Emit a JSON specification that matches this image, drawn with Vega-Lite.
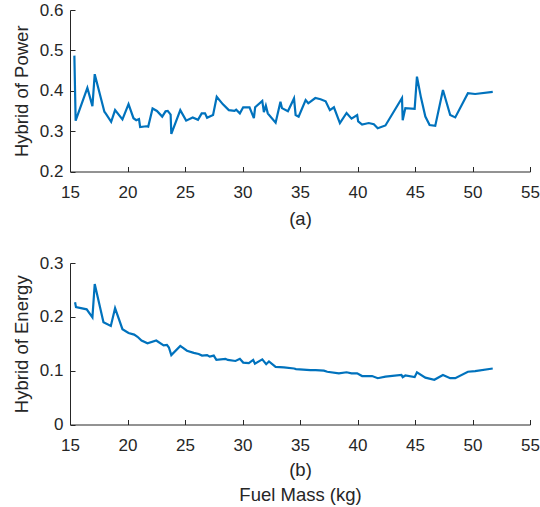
{
  "$schema": "https://vega.github.io/schema/vega-lite/v6.json",
  "padding": {"left": 12, "top": 1, "right": 2, "bottom": 2},
  "background": "white",
  "config": {
    "view": {"stroke": null},
    "font": "Liberation Sans",
    "axis": {
      "domainColor": "#262626",
      "tickColor": "#262626",
      "tickSize": -5,
      "labelColor": "#262626",
      "titleColor": "#262626",
      "labelFontSize": 17,
      "titleFontSize": 18.5,
      "titleFontWeight": "normal",
      "grid": false,
      "labelFlush": false,
      "labelOverlap": false,
      "labelFont": "Liberation Sans",
      "titleFont": "Liberation Sans"
    }
  },
  "datasets": {
    "power": [
      {"m": 15.38, "v": 0.487}, {"m": 15.49, "v": 0.326}, {"m": 16.51, "v": 0.407}, {"m": 16.95, "v": 0.362},
      {"m": 17.15, "v": 0.441}, {"m": 17.99, "v": 0.348}, {"m": 18.1, "v": 0.344}, {"m": 18.58, "v": 0.323},
      {"m": 18.92, "v": 0.352}, {"m": 19.56, "v": 0.329}, {"m": 20.09, "v": 0.367}, {"m": 20.52, "v": 0.332},
      {"m": 20.76, "v": 0.327}, {"m": 21.0, "v": 0.33}, {"m": 21.1, "v": 0.31}, {"m": 21.63, "v": 0.312},
      {"m": 21.8, "v": 0.311}, {"m": 22.18, "v": 0.356}, {"m": 22.56, "v": 0.35}, {"m": 23.02, "v": 0.336},
      {"m": 23.31, "v": 0.349}, {"m": 23.5, "v": 0.35}, {"m": 23.75, "v": 0.341}, {"m": 23.81, "v": 0.293},
      {"m": 24.59, "v": 0.352}, {"m": 25.1, "v": 0.326}, {"m": 25.67, "v": 0.334}, {"m": 26.13, "v": 0.328},
      {"m": 26.45, "v": 0.344}, {"m": 26.74, "v": 0.344}, {"m": 26.92, "v": 0.333}, {"m": 27.44, "v": 0.34},
      {"m": 27.76, "v": 0.385}, {"m": 28.28, "v": 0.367}, {"m": 28.81, "v": 0.352}, {"m": 29.3, "v": 0.35},
      {"m": 29.45, "v": 0.353}, {"m": 29.77, "v": 0.344}, {"m": 30.06, "v": 0.359}, {"m": 30.61, "v": 0.359},
      {"m": 30.99, "v": 0.332}, {"m": 31.1, "v": 0.359}, {"m": 31.72, "v": 0.375}, {"m": 31.86, "v": 0.347},
      {"m": 32.03, "v": 0.363}, {"m": 32.2, "v": 0.344}, {"m": 32.88, "v": 0.321}, {"m": 33.3, "v": 0.373},
      {"m": 33.43, "v": 0.357}, {"m": 33.95, "v": 0.349}, {"m": 34.48, "v": 0.381}, {"m": 34.62, "v": 0.34},
      {"m": 34.88, "v": 0.336}, {"m": 35.49, "v": 0.377}, {"m": 35.72, "v": 0.369}, {"m": 36.33, "v": 0.382},
      {"m": 36.79, "v": 0.379}, {"m": 37.23, "v": 0.374}, {"m": 37.6, "v": 0.352}, {"m": 37.95, "v": 0.359},
      {"m": 38.47, "v": 0.32}, {"m": 39.05, "v": 0.345}, {"m": 39.48, "v": 0.331}, {"m": 39.97, "v": 0.34},
      {"m": 40.06, "v": 0.324}, {"m": 40.4, "v": 0.316}, {"m": 40.98, "v": 0.32}, {"m": 41.42, "v": 0.317},
      {"m": 41.76, "v": 0.307}, {"m": 42.43, "v": 0.314}, {"m": 43.87, "v": 0.382}, {"m": 43.93, "v": 0.327},
      {"m": 44.16, "v": 0.357}, {"m": 44.97, "v": 0.355}, {"m": 45.17, "v": 0.435}, {"m": 45.52, "v": 0.383},
      {"m": 45.9, "v": 0.336}, {"m": 46.27, "v": 0.315}, {"m": 46.76, "v": 0.313}, {"m": 47.43, "v": 0.402},
      {"m": 48.06, "v": 0.34}, {"m": 48.5, "v": 0.334}, {"m": 49.6, "v": 0.394}, {"m": 50.23, "v": 0.392},
      {"m": 51.76, "v": 0.397}
    ],
    "energy": [
      {"m": 15.44, "v": 0.227}, {"m": 15.52, "v": 0.218}, {"m": 16.45, "v": 0.214}, {"m": 16.95, "v": 0.199},
      {"m": 17.15, "v": 0.261}, {"m": 17.91, "v": 0.19}, {"m": 18.55, "v": 0.183}, {"m": 18.92, "v": 0.216},
      {"m": 19.56, "v": 0.177}, {"m": 20.09, "v": 0.17}, {"m": 20.58, "v": 0.167}, {"m": 20.87, "v": 0.163},
      {"m": 21.22, "v": 0.156}, {"m": 21.74, "v": 0.151}, {"m": 22.5, "v": 0.156}, {"m": 23.14, "v": 0.147},
      {"m": 23.43, "v": 0.148}, {"m": 23.6, "v": 0.143}, {"m": 23.81, "v": 0.129}, {"m": 24.59, "v": 0.146},
      {"m": 25.17, "v": 0.137}, {"m": 25.76, "v": 0.133}, {"m": 26.19, "v": 0.131}, {"m": 26.48, "v": 0.128},
      {"m": 26.92, "v": 0.129}, {"m": 27.15, "v": 0.126}, {"m": 27.5, "v": 0.128}, {"m": 27.73, "v": 0.12},
      {"m": 28.52, "v": 0.122}, {"m": 28.72, "v": 0.12}, {"m": 29.39, "v": 0.118}, {"m": 29.77, "v": 0.122},
      {"m": 30.06, "v": 0.115}, {"m": 30.55, "v": 0.114}, {"m": 30.93, "v": 0.12}, {"m": 31.08, "v": 0.113},
      {"m": 31.72, "v": 0.121}, {"m": 32.06, "v": 0.112}, {"m": 32.3, "v": 0.117}, {"m": 32.88, "v": 0.107},
      {"m": 33.6, "v": 0.106}, {"m": 34.48, "v": 0.104}, {"m": 34.65, "v": 0.103}, {"m": 35.9, "v": 0.101},
      {"m": 36.36, "v": 0.101}, {"m": 37.08, "v": 0.1}, {"m": 37.37, "v": 0.098}, {"m": 38.38, "v": 0.095},
      {"m": 39.05, "v": 0.097}, {"m": 39.48, "v": 0.095}, {"m": 39.97, "v": 0.095}, {"m": 40.4, "v": 0.09},
      {"m": 41.27, "v": 0.09}, {"m": 41.76, "v": 0.086}, {"m": 42.43, "v": 0.089}, {"m": 43.82, "v": 0.092},
      {"m": 43.93, "v": 0.088}, {"m": 44.16, "v": 0.091}, {"m": 44.97, "v": 0.088}, {"m": 45.17, "v": 0.097},
      {"m": 45.9, "v": 0.087}, {"m": 46.68, "v": 0.083}, {"m": 47.43, "v": 0.092}, {"m": 48.06, "v": 0.086},
      {"m": 48.5, "v": 0.086}, {"m": 49.6, "v": 0.098}, {"m": 50.23, "v": 0.099}, {"m": 51.76, "v": 0.104}
    ]
  },
  "vconcat": [
    {
      "width": 460,
      "height": 161.5,
      "data": {"name": "power"},
      "mark": {"type": "line", "color": "#0072BD", "strokeWidth": 2.2},
      "encoding": {
        "x": {
          "field": "m", "type": "quantitative",
          "scale": {"domain": [15, 55], "nice": false},
          "axis": {"values": [15, 20, 25, 30, 35, 40, 45, 50, 55], "title": "(a)", "labelPadding": 18, "titlePadding": 9}
        },
        "y": {
          "field": "v", "type": "quantitative",
          "scale": {"domain": [0.2, 0.6], "nice": false, "zero": false},
          "axis": {"values": [0.2, 0.3, 0.4, 0.5, 0.6], "format": ".1f", "title": "Hybrid of Power", "labelPadding": 12, "titlePadding": 8}
        },
        "order": {"field": "m", "type": "quantitative"}
      }
    },
    {
      "width": 460,
      "height": 161.5,
      "data": {"name": "energy"},
      "mark": {"type": "line", "color": "#0072BD", "strokeWidth": 2.2},
      "encoding": {
        "x": {
          "field": "m", "type": "quantitative",
          "scale": {"domain": [15, 55], "nice": false},
          "axis": {"values": [15, 20, 25, 30, 35, 40, 45, 50, 55], "title": ["(b)", "Fuel Mass (kg)"], "titleLineHeight": 24.5, "labelPadding": 18, "titlePadding": 7}
        },
        "y": {
          "field": "v", "type": "quantitative",
          "scale": {"domain": [0, 0.3], "nice": false},
          "axis": {"values": [0, 0.1, 0.2, 0.3], "format": ".1~f", "title": "Hybrid of Energy", "labelPadding": 12, "titlePadding": 8}
        },
        "order": {"field": "m", "type": "quantitative"}
      }
    }
  ],
  "spacing": 26
}
